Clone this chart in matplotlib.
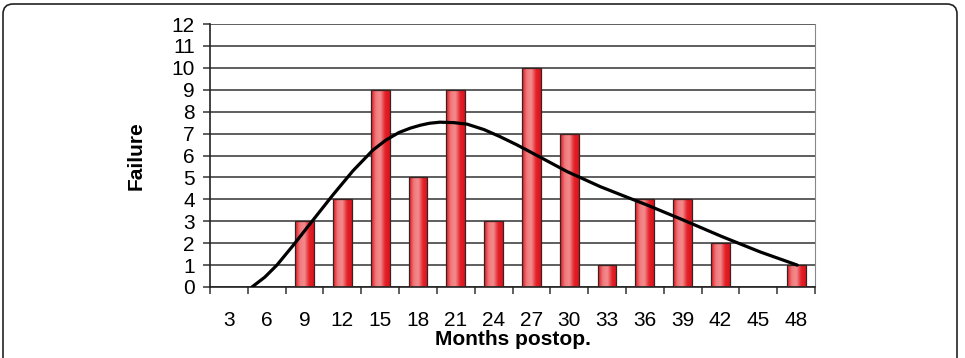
"""
Failures per 3-month interval after surgery, bar chart with a fitted trend curve.
Saves out.png (965x358).
"""
import numpy as np
import matplotlib
matplotlib.use("Agg")
import matplotlib.pyplot as plt
from matplotlib.colors import LinearSegmentedColormap
from matplotlib.patches import FancyBboxPatch
from matplotlib.transforms import IdentityTransform

months = ["3", "6", "9", "12", "15", "18", "21", "24", "27", "30",
          "33", "36", "39", "42", "45", "48"]
failures = [0, 0, 3, 4, 9, 5, 9, 3, 10, 7, 1, 4, 4, 2, 0, 1]

# trend curve, x in category-index units
trend_x = [0.61, 0.95, 1.27, 1.70, 2.20, 2.75, 3.28, 3.81, 4.15, 4.50, 4.80,
           5.06, 5.30, 5.58, 5.95, 6.30, 6.75, 7.17, 7.60, 8.04, 8.94,
           9.82, 10.45, 11.06, 12.01, 13.04, 14.05, 15.03]
trend_y = [0.0, 0.45, 1.0, 1.9, 3.0, 4.2, 5.3, 6.25, 6.7, 7.05, 7.25,
           7.38, 7.47, 7.52, 7.5, 7.43, 7.18, 6.86, 6.5, 6.1, 5.27,
           4.58, 4.15, 3.74, 3.06, 2.3, 1.6, 1.0]

plt.rcParams["font.family"] = ["Liberation Sans", "DejaVu Sans"]

W, H = 965, 358
fig = plt.figure(figsize=(W / 100, H / 100), dpi=100)
ax = fig.add_axes([210 / W, 71 / H, 605 / W, 263 / H])

# rounded frame round the whole figure (bottom edge runs off the image)
frame = FancyBboxPatch((3, -30), 954, 384, boxstyle="round,pad=0,rounding_size=10",
                       transform=IdentityTransform(), fill=False,
                       edgecolor="#222222", linewidth=1.2)
fig.add_artist(frame)

n = len(months)
x = np.arange(n)
bars = ax.bar(x, failures, width=0.5, color="none", edgecolor="#3a2222",
              linewidth=0.9, zorder=3)

# horizontal red -> pink -> red shading inside every bar
cmap = LinearSegmentedColormap.from_list(
    "redbar", ["#df151d", "#f07a7d", "#f38c8e", "#e3222a", "#dc141c"])
grad = np.linspace(0, 1, 64).reshape(1, -1)
for b in bars:
    h = b.get_height()
    if h <= 0:
        continue
    x0 = b.get_x()
    im = ax.imshow(grad, cmap=cmap, aspect="auto", zorder=2,
                   extent=(x0, x0 + b.get_width(), 0, h), interpolation="bicubic")
    im.set_clip_path(b)

ax.plot(trend_x, trend_y, color="black", lw=2.3, zorder=4,
        solid_joinstyle="round", solid_capstyle="round")

ax.set_xlim(-0.5, n - 0.5)
ax.set_ylim(0, 12)
ax.set_yticks(range(13))
ax.grid(axis="y", color="#333333", lw=1.1, zorder=1)
ax.set_axisbelow(True)

ax.set_xticks(x)
ax.set_xticklabels(months)
ax.set_xticks(np.arange(n + 1) - 0.5, minor=True)
ax.tick_params(axis="x", which="major", length=0, pad=17, labelsize=15)
ax.tick_params(axis="x", which="minor", length=5, width=1.1, color="#333333")
ax.tick_params(axis="y", length=5, width=1.1, color="#333333", pad=6, labelsize=15)

for s in ("left", "bottom"):
    ax.spines[s].set_color("#222222")
    ax.spines[s].set_linewidth(1.2)
ax.spines["top"].set_visible(False)
ax.spines["right"].set_color("#888888")
ax.spines["right"].set_linewidth(0.8)

ax.set_ylabel("Failure", fontsize=15, fontweight="bold")
ax.yaxis.set_label_coords(-0.107, 0.5)
ax.set_xlabel("Months postop.", fontsize=15, fontweight="bold")
ax.xaxis.set_label_coords(0.5, -0.162)

fig.savefig("out.png", dpi=100)
plt.close(fig)
